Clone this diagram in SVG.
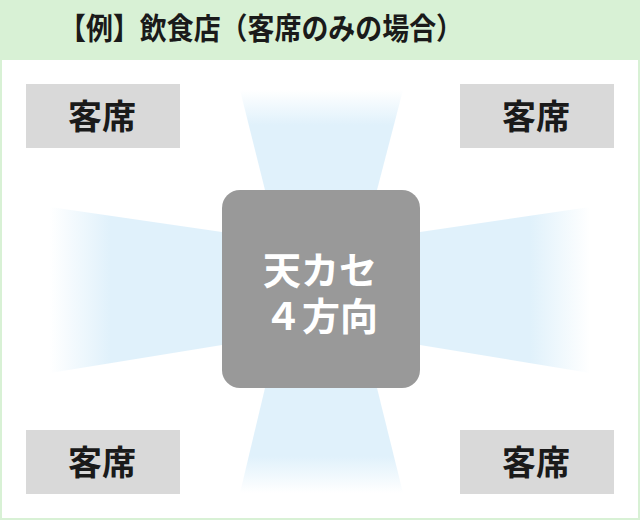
<svg xmlns="http://www.w3.org/2000/svg" width="640" height="520" viewBox="0 0 640 520">
<defs>
<style>
.seat rect{fill:#d9d9d9}
.seat text{font-family:"Noto Sans CJK JP","Noto Sans CJK SC",sans-serif;font-weight:bold;font-size:34px;fill:#1a1a1a;text-anchor:middle}
.title{font-family:"Noto Sans CJK JP","Noto Sans CJK SC",sans-serif;font-weight:bold;font-size:30px;fill:#1a1a1a}
.unit text{font-family:"Noto Sans CJK JP","Noto Sans CJK SC",sans-serif;font-weight:bold;font-size:38px;fill:#ffffff;text-anchor:middle}
</style>
<linearGradient id="gUp" x1="0" y1="90" x2="0" y2="190" gradientUnits="userSpaceOnUse">
<stop offset="0" stop-color="#e0f1fb" stop-opacity="0"/>
<stop offset="0.35" stop-color="#e0f1fb" stop-opacity="1"/>
<stop offset="1" stop-color="#e0f1fb"/>
</linearGradient>
<linearGradient id="gDown" x1="0" y1="493" x2="0" y2="388" gradientUnits="userSpaceOnUse">
<stop offset="0" stop-color="#e0f1fb" stop-opacity="0"/>
<stop offset="0.35" stop-color="#e0f1fb" stop-opacity="1"/>
<stop offset="1" stop-color="#e0f1fb"/>
</linearGradient>
<linearGradient id="gLeft" x1="50" y1="0" x2="222" y2="0" gradientUnits="userSpaceOnUse">
<stop offset="0" stop-color="#e0f1fb" stop-opacity="0"/>
<stop offset="0.35" stop-color="#e0f1fb" stop-opacity="1"/>
<stop offset="1" stop-color="#e0f1fb"/>
</linearGradient>
<linearGradient id="gRight" x1="590" y1="0" x2="420" y2="0" gradientUnits="userSpaceOnUse">
<stop offset="0" stop-color="#e0f1fb" stop-opacity="0"/>
<stop offset="0.35" stop-color="#e0f1fb" stop-opacity="1"/>
<stop offset="1" stop-color="#e0f1fb"/>
</linearGradient>
</defs>
<rect x="0" y="0" width="640" height="520" fill="#d8f1d5"/>
<rect x="2" y="60" width="636" height="458" fill="#ffffff"/>
<text class="title" x="59" y="39" textLength="404" lengthAdjust="spacingAndGlyphs">【例】飲食店（客席のみの場合）</text>
<g id="airflow">
<polygon points="240,90 403,90 377,190 265,190" fill="url(#gUp)"/>
<polygon points="265,388 377,388 403,493 240,493" fill="url(#gDown)"/>
<polygon points="50,207 222,232 222,345 50,373" fill="url(#gLeft)"/>
<polygon points="590,207 420,232 420,345 590,373" fill="url(#gRight)"/>
</g>
<g id="unit" class="unit">
<rect x="222" y="190" width="198" height="198" rx="18" fill="#999999"/>
<text x="320" y="284">天カセ<tspan x="321" y="330">４方向</tspan></text>
</g>
<g id="seat-tl" class="seat"><rect x="26" y="84" width="154" height="64"/><text x="102" y="129">客席</text></g>
<g id="seat-tr" class="seat"><rect x="460" y="84" width="154" height="64"/><text x="536" y="129">客席</text></g>
<g id="seat-bl" class="seat"><rect x="26" y="430" width="154" height="64"/><text x="102" y="475">客席</text></g>
<g id="seat-br" class="seat"><rect x="460" y="430" width="154" height="64"/><text x="536" y="475">客席</text></g>
</svg>
